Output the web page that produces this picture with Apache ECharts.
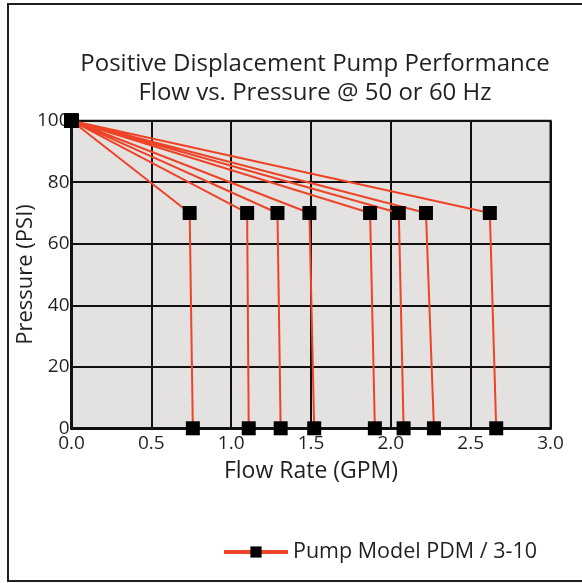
<!DOCTYPE html>
<html>
<head>
<meta charset="utf-8">
<script src="https://cdn.jsdelivr.net/npm/echarts@6/dist/echarts.min.js"></script>
<style>html,body{margin:0;padding:0;background:#fff;}#c{width:582px;height:583px;}</style>
</head>
<body>
<div id="c"></div>
<script>
// Data
var startPoint = [0.0, 100];
var kneePressure = 70;
var kneeFlows = [0.74, 1.10, 1.29, 1.49, 1.87, 2.05, 2.22, 2.62];
var zeroFlows = [0.76, 1.11, 1.31, 1.52, 1.90, 2.08, 2.27, 2.66];
var seriesName = 'Pump Model PDM / 3-10';
var titleLines = ['Positive Displacement Pump Performance', 'Flow vs. Pressure @ 50 or 60 Hz'];

var data = [];
for (var i = 0; i < kneeFlows.length; i++) {
  if (i > 0) data.push(['-', '-']);
  data.push(startPoint.slice());
  data.push([kneeFlows[i], kneePressure]);
  data.push([zeroFlows[i], 0]);
}

var font = '"Open Sans", "Noto Sans", sans-serif';
var txt = '#231f20';
var chart = echarts.init(document.getElementById('c'), null, {renderer: 'canvas'});
chart.setOption({
  animation: false,
  backgroundColor: '#fff',
  graphic: [{
    type: 'rect', silent: true, z: -1,
    shape: {x: 8, y: 4, width: 600, height: 577},
    style: {fill: 'none', stroke: '#231f20', lineWidth: 2}
  }],
  title: {
    text: titleLines.join('\n'),
    left: 310, textAlign: 'center', top: 45,
    textStyle: {fontFamily: font, fontSize: 24, fontWeight: 'normal', color: txt, lineHeight: 29}
  },
  legend: {
    left: 222, top: 541, padding: 0,
    itemWidth: 64, itemHeight: 14, itemGap: 8,
    lineStyle: {width: 4},
    textStyle: {fontFamily: font, fontSize: 21.5, color: txt},
    data: [seriesName]
  },
  grid: {
    left: 71.5, right: 31.5, top: 120.7, bottom: 154.7,
    containLabel: false, outerBoundsMode: 'none',
    show: true, backgroundColor: '#e3e2e1', borderColor: '#111', borderWidth: 2
  },
  xAxis: {
    type: 'value', min: 0, max: 3, interval: 0.5,
    name: 'Flow Rate (GPM)', nameLocation: 'middle', nameGap: 32,
    nameMoveOverlap: false,
    nameTextStyle: {fontFamily: font, fontSize: 23, color: txt},
    axisLine: {show: true, lineStyle: {color: '#111', width: 3}},
    axisTick: {show: false},
    axisLabel: {fontFamily: font, fontSize: 19, color: txt, margin: 6,
      formatter: function (v) { return v.toFixed(1); }},
    splitLine: {show: true, lineStyle: {color: '#111', width: 2}}
  },
  yAxis: {
    type: 'value', min: 0, max: 100, interval: 20,
    name: 'Pressure (PSI)', nameLocation: 'middle', nameGap: 35,
    nameMoveOverlap: false,
    nameTextStyle: {fontFamily: font, fontSize: 22, color: txt},
    axisLine: {show: true, lineStyle: {color: '#111', width: 3}},
    axisTick: {show: false},
    axisLabel: {fontFamily: font, fontSize: 19, color: txt, margin: 2},
    splitLine: {show: true, lineStyle: {color: '#111', width: 2}}
  },
  series: [{
    name: seriesName,
    type: 'line',
    data: data,
    connectNulls: false,
    clip: false,
    symbol: 'rect', symbolSize: 14, showAllSymbol: true,
    lineStyle: {color: '#ee4327', width: 2},
    itemStyle: {color: '#000', borderWidth: 0},
    z: 5
  }]
});
</script>
</body>
</html>
